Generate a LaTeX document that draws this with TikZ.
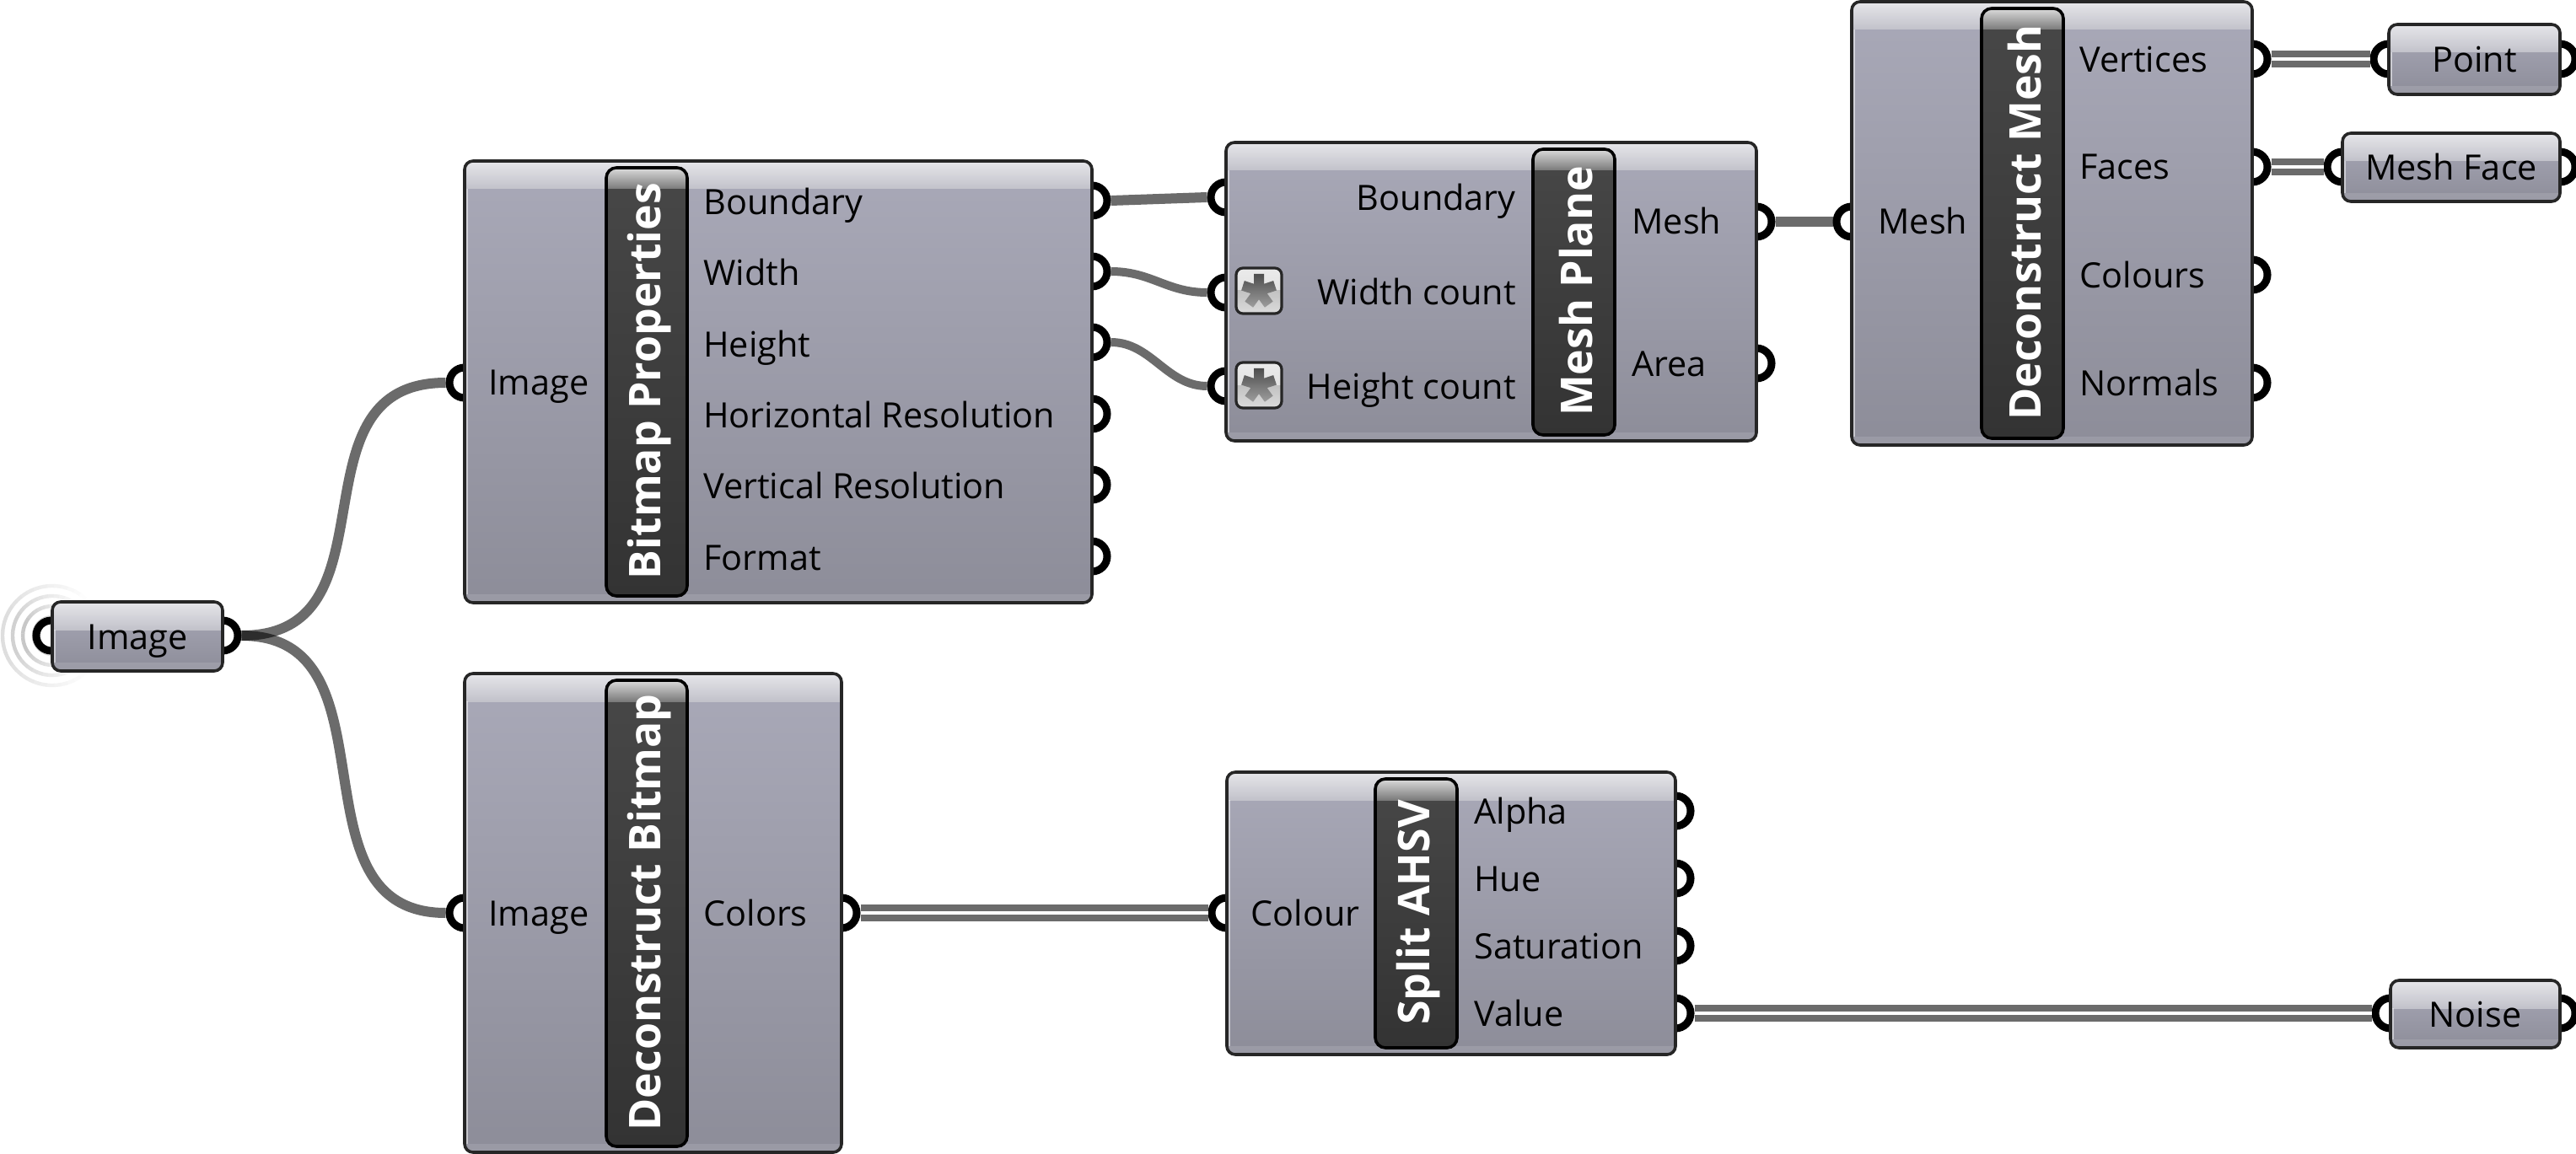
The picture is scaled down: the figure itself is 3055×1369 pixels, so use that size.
\documentclass[tikz,border=0pt]{standalone}
\usepackage{fontspec}
\setmainfont{Open Sans}
\usetikzlibrary{calc}
\definecolor{wirec}{HTML}{6B6B6B}
\definecolor{edgec}{HTML}{262626}
\definecolor{boxtop}{HTML}{A9A9B8}
\definecolor{boxbot}{HTML}{8D8D99}
\definecolor{hdtop}{HTML}{E6E6EA}
\definecolor{hdbot}{HTML}{C2C2CA}
\tikzset{
  px/.style={x=0.5pt,y=-0.5pt},
  box/.style={draw=edgec,line width=1.8pt,rounded corners=5pt,inner sep=0pt,outer sep=0pt,
    path picture={
      \shade[sharp corners,top color=boxtop,bottom color=boxbot]
        (path picture bounding box.north west) rectangle (path picture bounding box.south east);
      \shade[sharp corners,top color=hdtop,bottom color=hdbot]
        (path picture bounding box.north west) rectangle ([yshift=-16.5pt]path picture bounding box.north east);
      \fill[sharp corners,white,opacity=.12]
        ([yshift=5pt]path picture bounding box.south west) rectangle (path picture bounding box.south east);
      \fill[sharp corners,white,opacity=.5]
        ([xshift=.6pt,yshift=-16.5pt]path picture bounding box.north west) rectangle ([xshift=2pt,yshift=5pt]path picture bounding box.south west);
    }},
  strip/.style={draw=black,line width=1.8pt,rounded corners=6pt,inner sep=0pt,outer sep=0pt,
    path picture={
      \shade[sharp corners,top color=black!72,bottom color=black!80] (path picture bounding box.north west) rectangle (path picture bounding box.south east);
      \shade[sharp corners,top color=black!14,bottom color=black!52]
        (path picture bounding box.north west) rectangle ([yshift=-12.5pt]path picture bounding box.north east);
    }},
  striptext/.style={rotate=90,text=white,font=\fontsize{25.9}{26}\selectfont\bfseries,inner sep=0pt},
  port/.style={circle,draw=black,fill=white,line width=4.5pt,minimum size=18pt,inner sep=0pt,outer sep=2.25pt},
  lab/.style={font=\fontsize{20.7}{21}\selectfont,text=black,inner sep=0pt},
  lableft/.style={lab,anchor=base west},
  labright/.style={lab,anchor=base east},
  wire/.style={draw=black,opacity=.58,line width=6pt},
  thinwire/.style={draw=black,opacity=.58,line width=5pt},
  dwire/.style={draw=wirec,line width=4pt,double=white,double distance=2pt},
  staricon/.style={draw=edgec,line width=1.6pt,rounded corners=4pt,inner sep=0pt,minimum width=27pt,minimum height=27pt,
    path picture={
      \shade[sharp corners,top color=black!8,bottom color=black!14]
        (path picture bounding box.north west) rectangle (path picture bounding box.east);
      \shade[sharp corners,top color=black!24,bottom color=black!14]
        (path picture bounding box.west) rectangle (path picture bounding box.south east);
    }},
  asterisk/.style={top color=black!70,bottom color=black!38},
}
% name, x1, y1, x2, y2
\newcommand{\gbox}[5]{\node[box,minimum width={(#4-#2)*.5pt},minimum height={(#5-#3)*.5pt}] (#1) at ({(#2+#4)/2},{(#3+#5)/2}) {};}
\newcommand{\gstrip}[6]{\node[strip,minimum width={(#4-#2)*.5pt},minimum height={(#5-#3)*.5pt}] (#1) at ({(#2+#4)/2},{(#3+#5)/2}) {};
  \node[striptext] at ({(#2+#4)/2+3},{(#3+#5)/2-1}) {#6};}
\newcommand{\gport}[3]{\node[port] (#1) at (#2,#3) {};}
\newcommand{\lbl}[4]{\node[#1] at (#2,#3+15) {#4};}
\newcommand{\gparam}[6]{% name x1 y1 x2 y2 text
  \gbox{#1}{#2}{#3}{#4}{#5}\node[lab,anchor=base] at ({(#2+#4)/2},{(#3+#5)/2+15}) {#6};}
\newcommand{\gstar}[3]{\node[staricon] (#1) at (#2,#3) {};
  \shade[asterisk,shift={(#1.center)}] (253.3:20.9) \foreach \a in {270,342,54,126,198}{ -- ({\a-16.7}:20.9) -- ({\a+16.7}:20.9) -- ({\a+36}:10.2)} -- cycle;}
\begin{document}
\begin{tikzpicture}[px]
\useasboundingbox (0,0) rectangle (3055,1369);
% ripples
\foreach \r/\base in {22/26,35/22,47/18,59/13}{
  \foreach \a in {40,48,...,312}{
    \pgfmathsetmacro{\v}{\base*min(1,1.25*max(0,1-abs(\a+4-180)/135))}
    \draw[draw=black!\v,line width=2.2pt] ($(62,754)+(\a:\r)$) arc[start angle=\a,delta angle=8.5,radius=\r] ;
  }
}
% ports
\gport{pimgL}{61}{754}\gport{pimgR}{264}{754}
\foreach \n/\y in {pbb/238,pbw/322,pbh/406,pbhr/491,pbvr/575,pbf/660}{\gport{\n}{1295}{\y}}
\gport{pbi}{551}{454}
\gport{pmb}{1454}{234}\gport{pmw}{1454}{347}\gport{pmh}{1454}{458}
\gport{pmm}{2083}{263}\gport{pma}{2083}{431}
\gport{pdi}{2196}{263}
\foreach \n/\y in {pdv/70,pdf/198,pdc/326,pdn/454}{\gport{\n}{2671}{\y}}
\gport{ppL}{2833}{70}\gport{ppR}{3036}{70}
\gport{pfL}{2778}{198}\gport{pfR}{3036}{198}
\gport{pci}{551}{1083}\gport{pco}{998}{1083}
\gport{psi}{1455}{1083}
\foreach \n/\y in {psa/962,psh/1042,pss/1122,psv/1202}{\gport{\n}{1987}{\y}}
\gport{pnL}{2835}{1202}\gport{pnR}{3036}{1202}
% params
\gparam{image}{62}{714}{264}{796}{Image}
\gparam{point}{2833}{29}{3036}{112}{Point}
\gparam{meshface}{2778}{158}{3036}{239}{Mesh Face}
\gparam{noise}{2835}{1163}{3036}{1243}{Noise}
% Bitmap Properties
\gbox{bp}{551}{191}{1295}{715}
\gstrip{bps}{719}{199}{815}{707}{Bitmap Properties}
\lbl{lableft}{579}{453}{Image}
\lbl{lableft}{834}{240}{Boundary}
\lbl{lableft}{834}{324}{Width}
\lbl{lableft}{834}{408}{Height}
\lbl{lableft}{834}{492}{Horizontal Resolution}
\lbl{lableft}{834}{576}{Vertical Resolution}
\lbl{lableft}{834}{661}{Format}
% Mesh Plane
\gbox{mp}{1454}{169}{2083}{523}
\gstrip{mps}{1818}{177}{1915}{516}{Mesh Plane}
\lbl{labright}{1798}{235}{Boundary}
\lbl{labright}{1798}{347}{Width count}
\lbl{labright}{1798}{458}{Height count}
\lbl{lableft}{1935}{263}{Mesh}
\lbl{lableft}{1935}{431}{Area}
\gstar{sw}{1493}{345}\gstar{sh}{1493}{457}
% Deconstruct Mesh
\gbox{dm}{2196}{2}{2671}{528}
\gstrip{dms}{2350}{10}{2447}{520}{Deconstruct Mesh}
\lbl{lableft}{2227}{263}{Mesh}
\lbl{lableft}{2466}{71}{Vertices}
\lbl{lableft}{2466}{198}{Faces}
\lbl{lableft}{2466}{327}{Colours}
\lbl{lableft}{2466}{454}{Normals}
% Deconstruct Bitmap
\gbox{db}{551}{799}{998}{1367}
\gstrip{dbs}{719}{807}{815}{1360}{Deconstruct Bitmap}
\lbl{lableft}{579}{1083}{Image}
\lbl{lableft}{834}{1083}{Colors}
% Split AHSV
\gbox{sa}{1455}{916}{1987}{1251}
\gstrip{sas}{1631}{924}{1728}{1243}{Split AHSV}
\lbl{lableft}{1483}{1083}{Colour}
\lbl{lableft}{1748}{962}{Alpha}
\lbl{lableft}{1748}{1042}{Hue}
\lbl{lableft}{1748}{1122}{Saturation}
\lbl{lableft}{1748}{1202}{Value}
% wires
\draw[wire] (pimgR.east) .. controls +(190,0) and +(-190,0) .. (pbi.west);
\draw[wire] (pimgR.east) .. controls +(190,0) and +(-190,0) .. (pci.west);
\draw[wire] (pbb.east) -- (pmb.west);
\draw[thinwire] (pbw.east) .. controls +(48,0) and +(-48,0) .. (pmw.west);
\draw[thinwire] (pbh.east) .. controls +(48,0) and +(-48,0) .. (pmh.west);
\draw[wire] (pmm.east) -- (pdi.west);
\draw[dwire] (pdv.east) -- (ppL.west);
\draw[dwire] (pdf.east) -- (pfL.west);
\draw[dwire] (pco.east) -- (psi.west);
\draw[dwire] (psv.east) -- (pnL.west);
\end{tikzpicture}
\end{document}
